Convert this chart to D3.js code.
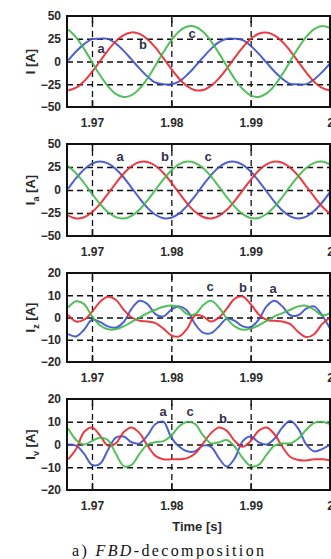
<!DOCTYPE html>
<html>
<head>
<meta charset="utf-8">
<script src="https://cdn.jsdelivr.net/npm/d3@7"></script>
<style>
  body { margin: 0; background: #fff; }
  svg { display: block; }
</style>
</head>
<body>
<svg id="chart" width="331" height="559"></svg>
<script>
// sample times [s], one every 1 ms
const time = [1.967, 1.968, 1.969, 1.970, 1.971, 1.972, 1.973, 1.974, 1.975, 1.976,
              1.977, 1.978, 1.979, 1.980, 1.981, 1.982, 1.983, 1.984, 1.985, 1.986,
              1.987, 1.988, 1.989, 1.990, 1.991, 1.992, 1.993, 1.994, 1.995, 1.996,
              1.997, 1.998, 1.999, 2.000];
const xTicks = [1.97, 1.98, 1.99, 2];
const xTickLabels = ['1.97', '1.98', '1.99', '2'];
const bigTicks = [50, 25, 0, -25, -50];
const smallTicks = [20, 10, 0, -10, -20];

// I [A]
const iA = [1.3, 11.0, 19.1, 24.6, 25, 24.9, 19.7, 11.7, 2.1, -7.8, -16.6, -23.1, -25, -25, -21.8, -14.6, -5.4,
            4.6, 13.9, 21.3, 25, 25, 23.5, 17.3, 8.6, -1.3, -11.0, -19.1, -24.6, -25, -24.9, -19.7, -11.7, -2.1];
const iB = [-31.9, -28.8, -21.7, -11.5, 0.3, 12.0, 22.1, 29.1, 32.0, 30.3, 24.5, 15.2, 3.7, -8.2, -19.0, -27.2, -31.5,
            -31.4, -26.8, -18.6, -7.7, 4.3, 15.6, 24.8, 30.5, 31.9, 28.8, 21.7, 11.5, -0.3, -12.0, -22.1, -29.1, -32.0];
const iC = [35.1, 26.4, 13.9, -0.5, -14.8, -27.0, -35.5, -39.0, -36.9, -29.8, -18.4, -4.4, 10.2, 23.3, 33.2, 38.4, 38.2,
            32.7, 22.5, 9.2, -5.3, -19.2, -30.3, -37.2, -38.9, -35.1, -26.4, -13.9, 0.5, 14.8, 27.0, 35.5, 39.0, 36.9];

// Ia [A]
const iaA = [1.5, 12.8, 22.3, 28.6, 31.0, 29.0, 22.9, 13.6, 2.4, -9.1, -19.4, -26.9, -30.7, -30.1, -25.4, -17.0, -6.3,
             5.3, 16.2, 24.8, 29.9, 30.8, 27.4, 20.1, 10.0, -1.5, -12.8, -22.3, -28.6, -31.0, -29.0, -22.9, -13.6, -2.4];
const iaB = [-27.9, -30.9, -29.6, -24.1, -15.3, -4.2, 7.3, 17.9, 26.0, 30.4, 30.5, 26.4, 18.5, 8.1, -3.5, -14.6, -23.7,
             -29.4, -31.0, -28.2, -21.5, -11.7, -0.4, 11.1, 21.0, 27.9, 30.9, 29.6, 24.1, 15.3, 4.2, -7.3, -17.9, -26.0];
const iaC = [26.1, 18.1, 7.6, -4.1, -15.1, -24.0, -29.5, -30.9, -28.0, -21.1, -11.3, 0.2, 11.6, 21.3, 28.1, 30.9, 29.4,
             23.8, 14.8, 3.7, -7.9, -18.4, -26.3, -30.5, -30.4, -26.1, -18.1, -7.6, 4.1, 15.1, 24.0, 29.5, 30.9, 28.0];

// Iz [A]
const izA = [-7.5, -8.5, -5.5, -1, -2, -4, -4.5, -2, 4, 7.5, 6, 1.5, 0.5, 3.5, 5, 3, -3,
             -6.8, -7, -4, -0.5, -1.5, -4, -4.3, -1, 5, 7.5, 5, 1, 1, 4, 5, 1, -5];
const izB = [1.2, -1.8, -1, 2.5, 7, 9.3, 8, 3.5, 0, -1.5, -1.8, -2.5, -5, -8, -8.5, -5, 1,
             0.5, -1.8, 0, 4, 8.5, 9.4, 6, 1.5, -1, -1.5, -1.8, -3, -6.5, -8.8, -7.5, -3, 0];
const izC = [4.5, 7.3, 6, 0.5, -3.5, -5.3, -5.3, -4, -2, 0, 2, 3.5, 4.8, 5.4, 4.5, 1.5, 1.5,
             5.5, 7.5, 4.5, -0.5, -4, -5.5, -5, -3.5, -1.5, 0.5, 2, 3.5, 5, 5.3, 3.5, 1, 2];

// Iv [A]
const ivA = [0, -0.5, -4, -9, -8.5, -2.5, 3, 3.5, 1, 0.5, 4, 9, 10, 3, -1, -3, -3,
             -0.5, -1, -6, -9.7, -6, 1.5, 3.5, 1, 0, 2.5, 7.5, 10.3, 7, 0, -3, -2, 0];
const ivB = [-6.5, -2, 5.5, 7.5, 4, -0.5, 0.5, 5.5, 7.5, 5, -0.5, -5, -6.5, -6.5, -6.5, -6, -4,
             0.5, 5, 7.5, 6, 1.5, -1, 1.5, 6, 7.5, 4.5, -1, -5.5, -6.8, -7, -6.5, -6.5, -7];
const ivC = [7, 2, 0, 1.5, 3, 2, -4, -9.5, -9, -4, 0, 1, 1.5, 4, 8, 10, 9,
             4, 0.5, 1, 2, -1, -6, -9.5, -9, -4.5, -0.5, 0.5, 0.5, 2.5, 6.5, 9.5, 10, 9];

const colors = { a: '#3b4fc8', b: '#e8262e', c: '#3fb848' };

const panels = [
  { label: 'I', sub: '', top: 16, bottom: 107, ticks: bigTicks, series: [iA, iB, iC],
    marks: [['a', 101, 53], ['b', 143, 49], ['c', 192, 38]] },
  { label: 'I', sub: 'a', top: 144, bottom: 236, ticks: bigTicks, series: [iaA, iaB, iaC],
    marks: [['a', 120, 161], ['b', 165, 161], ['c', 208, 161]] },
  { label: 'I', sub: 'z', top: 273, bottom: 362, ticks: smallTicks, series: [izA, izB, izC],
    marks: [['c', 210, 291], ['b', 243, 292], ['a', 273, 293]] },
  { label: 'I', sub: 'v', top: 399, bottom: 490, ticks: smallTicks, series: [ivA, ivB, ivC],
    marks: [['a', 163, 416], ['c', 190, 416], ['b', 223, 423]] }
];

const left = 67, right = 330;
const svg = d3.select('#chart');

const x = d3.scaleLinear().domain([1.96685, 2.0]).range([left, right]);

panels.forEach((p, i) => {
  const m = p.ticks[0];
  const y = d3.scaleLinear().domain([-m, m]).range([p.bottom, p.top]);
  const g = svg.append('g');

  g.append('clipPath').attr('id', 'clip' + i)
    .append('rect').attr('x', left).attr('y', p.top)
    .attr('width', right - left).attr('height', p.bottom - p.top);

  // dashed grid
  g.append('g')
    .attr('transform', `translate(0,${p.bottom})`)
    .call(d3.axisBottom(x).tickValues(xTicks.slice(0, 3)).tickSize(-(p.bottom - p.top)).tickFormat(''))
    .call(a => a.select('.domain').remove())
    .selectAll('line').attr('stroke', '#111').attr('stroke-width', 1.3).attr('stroke-dasharray', '6,4');
  g.append('g')
    .attr('transform', `translate(${left},0)`)
    .call(d3.axisLeft(y).tickValues(p.ticks.slice(1, 4)).tickSize(-(right - left)).tickFormat(''))
    .call(a => a.select('.domain').remove())
    .selectAll('line').attr('stroke', '#111').attr('stroke-width', 1.3).attr('stroke-dasharray', '6,4');

  // solid tick marks on top and bottom edges
  [[p.bottom, d3.axisBottom], [p.top, d3.axisTop]].forEach(([yy, ax]) => {
    g.append('g')
      .attr('transform', `translate(0,${yy})`)
      .call(ax(x).tickValues(xTicks.slice(0, 3)).tickSize(-7).tickFormat(''))
      .call(a => a.select('.domain').remove())
      .selectAll('line').attr('stroke', '#111').attr('stroke-width', 1.5);
  });

  // curves
  const line = (vals) => d3.line()
    .x((d, k) => x(time[k]))
    .y(d => y(d))
    .curve(d3.curveCatmullRom.alpha(0.5))(vals);
  const cols = [colors.a, colors.b, colors.c];
  p.series.forEach((vals, k) => {
    g.append('path')
      .attr('clip-path', `url(#clip${i})`)
      .attr('d', line(vals))
      .attr('fill', 'none')
      .attr('stroke', cols[k])
      .attr('stroke-width', 2)
      .attr('stroke-opacity', 0.9);
  });

  // frame
  g.append('rect')
    .attr('x', left).attr('y', p.top)
    .attr('width', right - left).attr('height', p.bottom - p.top)
    .attr('fill', 'none').attr('stroke', '#111').attr('stroke-width', 2);

  // tick labels
  g.append('g')
    .attr('transform', `translate(0,${p.bottom})`)
    .call(d3.axisBottom(x).tickValues(xTicks).tickSize(0).tickPadding(11)
      .tickFormat((d, k) => xTickLabels[k]))
    .call(a => a.select('.domain').remove())
    .selectAll('text')
    .attr('font-family', 'Liberation Sans, Arial, sans-serif')
    .attr('font-size', 12).attr('font-weight', 'bold').attr('fill', '#2a2a2a');
  g.append('g')
    .attr('transform', `translate(${left},0)`)
    .call(d3.axisLeft(y).tickValues(p.ticks).tickSize(0).tickPadding(6))
    .call(a => a.select('.domain').remove())
    .selectAll('text')
    .attr('font-family', 'Liberation Sans, Arial, sans-serif')
    .attr('font-size', 12).attr('font-weight', 'bold').attr('fill', '#2a2a2a');

  // y label
  const lab = g.append('text')
    .attr('transform', `translate(35,${(p.top + p.bottom) / 2}) rotate(-90)`)
    .attr('text-anchor', 'middle')
    .attr('font-family', 'Liberation Sans, Arial, sans-serif')
    .attr('font-size', 13).attr('font-weight', 'bold').attr('fill', '#2a2a2a');
  lab.append('tspan').text(p.label);
  if (p.sub) lab.append('tspan').attr('font-size', 9).attr('dy', 4).text(p.sub);
  lab.append('tspan').attr('dy', p.sub ? -4 : 0).text(' [A]');

  // phase markers
  g.selectAll('text.mark').data(p.marks).enter()
    .append('text').attr('class', 'mark')
    .attr('x', d => d[1]).attr('y', d => d[2])
    .attr('text-anchor', 'middle')
    .attr('font-family', 'Liberation Sans, Arial, sans-serif')
    .attr('font-size', 13).attr('font-weight', 'bold')
    .attr('fill', '#33304a')
    .text(d => d[0]);
});

svg.append('text')
  .attr('x', 197).attr('y', 531)
  .attr('text-anchor', 'middle')
  .attr('font-family', 'Liberation Sans, Arial, sans-serif')
  .attr('font-size', 13).attr('font-weight', 'bold').attr('fill', '#2a2a2a')
  .text('Time [s]');

const cap = svg.append('text')
  .attr('x', 72).attr('y', 556)
  .attr('font-family', 'Liberation Serif, Times New Roman, serif')
  .attr('font-size', 16).attr('fill', '#111')
  .attr('textLength', 192).attr('lengthAdjust', 'spacing');
cap.append('tspan').text('a) ');
cap.append('tspan').attr('font-style', 'italic').text('FBD');
cap.append('tspan').text('-decomposition');
</script>
</body>
</html>
